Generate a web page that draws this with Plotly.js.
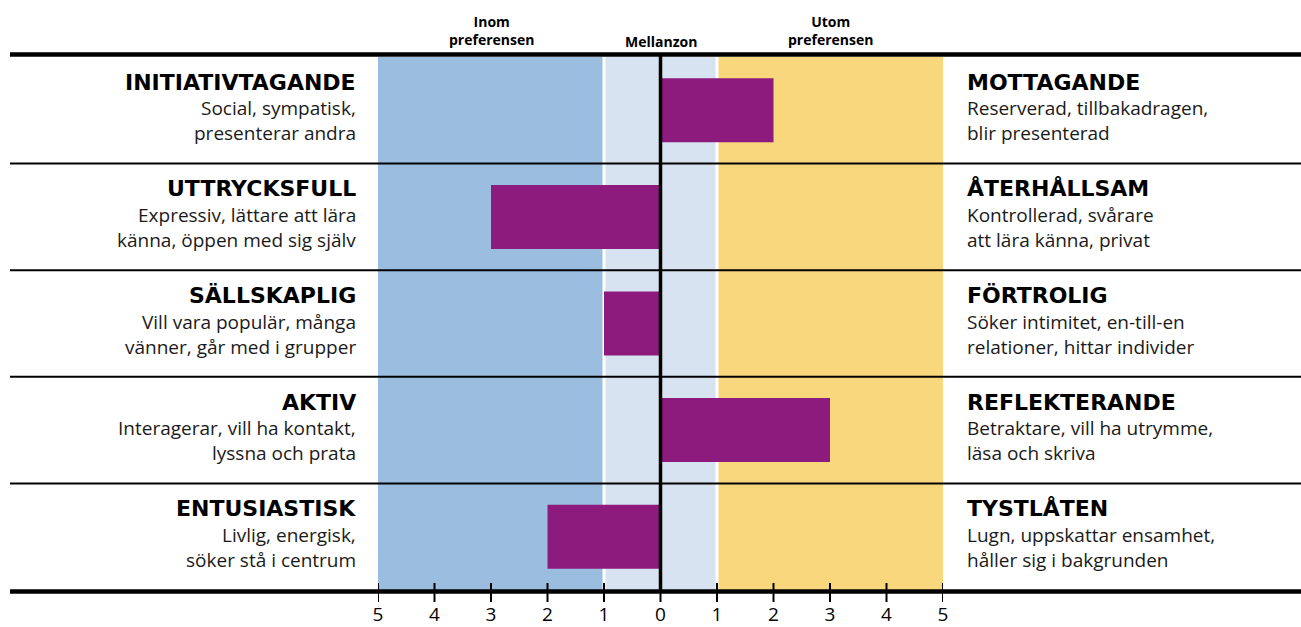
<!DOCTYPE html>
<html><head><meta charset="utf-8">
<script src="https://cdn.plot.ly/plotly-3.0.1.min.js"></script>
<style>body{margin:0;background:#fff}</style>
</head><body><div id="chart" style="width:1301px;height:627px"></div>
<script>
const leftTitles = ['INITIATIVTAGANDE','UTTRYCKSFULL','SÄLLSKAPLIG','AKTIV','ENTUSIASTISK'];
const leftLine1 = ['Social, sympatisk,','Expressiv, lättare att lära','Vill vara populär, många','Interagerar, vill ha kontakt,','Livlig, energisk,'];
const leftLine2 = ['presenterar andra','känna, öppen med sig själv','vänner, går med i grupper','lyssna och prata','söker stå i centrum'];
const rightTitles = ['MOTTAGANDE','ÅTERHÅLLSAM','FÖRTROLIG','REFLEKTERANDE','TYSTLÅTEN'];
const rightLine1 = ['Reserverad, tillbakadragen,','Kontrollerad, svårare','Söker intimitet, en-till-en','Betraktare, vill ha utrymme,','Lugn, uppskattar ensamhet,'];
const rightLine2 = ['blir presenterad','att lära känna, privat','relationer, hittar individer','läsa och skriva','håller sig i bakgrunden'];
const scores = [2, -3, -1, 3, -2];
const tickVals = [-5,-4,-3,-2,-1,0,1,2,3,4,5];
const tickText = ['5','4','3','2','1','0','1','2','3','4','5'];
const zoneLabels = ['Inom<br>preferensen','Mellanzon','Utom<br>preferensen'];
const zoneStart = [-5, -1, 1];
const zoneEnd = [-1, 1, 5];
const zoneColors = ['#9bbddf','#d8e3f1','#f9d77c'];

const W = 1301, H = 627;
const L = 378, R = 943, T = 57, B = 590;
const pw = R - L, ph = B - T;
const px = p => (p - L) / pw;
const py = p => (B - p) / ph;
const FONT = 'Open Sans, Noto Sans, sans-serif';
const HEAVY = 'DejaVu Sans, Open Sans, sans-serif';

const shapes = [];
zoneStart.forEach((s, i) => {
  shapes.push({type:'rect', layer:'below', xref:'x', yref:'paper', x0:s, x1:zoneEnd[i], y0:0, y1:1,
    fillcolor:zoneColors[i], line:{width:0}});
});
[-1, 1].forEach(v => shapes.push({type:'line', layer:'below', xref:'x', yref:'paper', x0:v, x1:v, y0:0, y1:1,
  line:{color:'#ffffff', width:3}}));
for (let k = 0; k < leftTitles.length - 1; k++) {
  shapes.push({type:'line', xref:'paper', yref:'y', x0:px(10), x1:px(1301), y0:k+0.5, y1:k+0.5,
    line:{color:'#000', width:2}});
}
shapes.push({type:'line', xref:'x', yref:'paper', x0:0, x1:0, y0:py(591), y1:py(55), line:{color:'#000', width:3.5}});
shapes.push({type:'line', xref:'paper', yref:'paper', x0:px(10), x1:px(1301), y0:py(54.5), y1:py(54.5), line:{color:'#000', width:4.5}});
shapes.push({type:'line', xref:'paper', yref:'paper', x0:px(10), x1:px(1301), y0:py(591.5), y1:py(591.5), line:{color:'#000', width:4.5}});
tickVals.forEach(v => shapes.push({type:'line', xref:'x', yref:'paper', x0:v, x1:v, y0:py(602), y1:py(583),
  line:{color:'#000', width:2}}));

const annotations = [];
function addText(x, anchor, y, shift, text, font) {
  annotations.push({xref:'paper', yref:'y', x:px(x), y:y, xanchor:anchor, yanchor:'middle', yshift:shift,
    text:text, showarrow:false, font:font});
}
const titleFont = {family:HEAVY, size:22, color:'#000', weight:'bold'};
const descFont = {family:FONT, size:19, color:'#1a1a1a'};
leftTitles.forEach((t, i) => {
  addText(358, 'right', t, 28, '<b>'+t+'</b>', titleFont);
  addText(358, 'right', t, 2, leftLine1[i], descFont);
  addText(358, 'right', t, -23, leftLine2[i], descFont);
  addText(965, 'left', t, 28, '<b>'+rightTitles[i]+'</b>', titleFont);
  addText(965, 'left', t, 2, rightLine1[i], descFont);
  addText(965, 'left', t, -23, rightLine2[i], descFont);
});
zoneLabels.forEach((z, i) => {
  annotations.push({xref:'x', yref:'paper', x:(zoneStart[i]+zoneEnd[i])/2, y:py(i === 1 ? 53 : 51), xanchor:'center', yanchor:'bottom',
    text:'<b>'+z+'</b>', showarrow:false, font:{family:FONT, size:14, color:'#000'}});
});

const trace = {type:'bar', orientation:'h', x:scores, y:leftTitles, base:0, width:0.6,
  marker:{color:'#8d1a7d', line:{width:0}}, hoverinfo:'x'};

const layout = {
  width:W, height:H, margin:{l:L, r:W-R, t:T, b:H-B},
  paper_bgcolor:'#fff', plot_bgcolor:'rgba(0,0,0,0)', showlegend:false,
  xaxis:{range:[-5,5], tickvals:tickVals, ticktext:tickText, ticks:'', showgrid:false, zeroline:false,
    showline:false, ticklabelstandoff:11, tickfont:{family:FONT, size:19, color:'#000'}, fixedrange:true},
  yaxis:{type:'category', range:[4.5,-0.5], showticklabels:false, showgrid:false, zeroline:false, showline:false, fixedrange:true},
  shapes, annotations
};
Plotly.newPlot('chart', [trace], layout, {displayModeBar:false, staticPlot:true});
</script></body></html>
